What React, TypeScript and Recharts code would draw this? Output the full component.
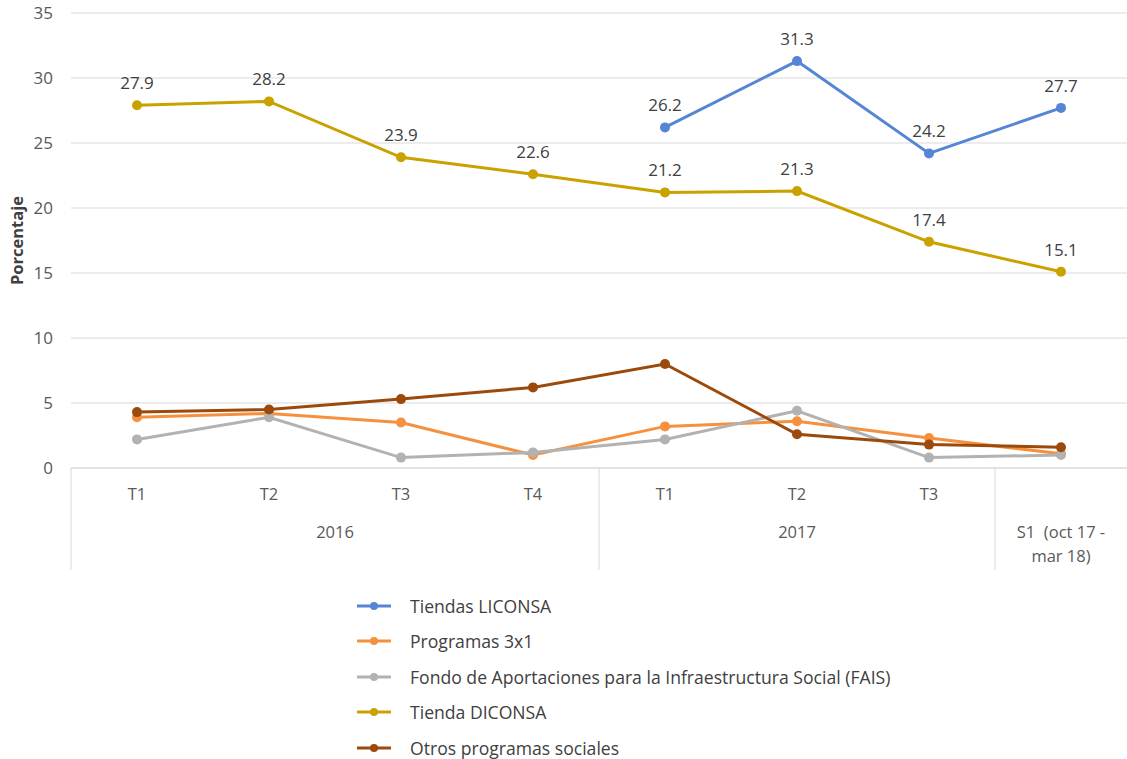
import React from "react";
import { CartesianGrid, LabelList, Legend, Line, LineChart, XAxis, YAxis } from "recharts";

const quarters = ["T1", "T2", "T3", "T4", "T1", "T2", "T3", ""];
const groups = [
  { start: 0, size: 4, label: ["2016"] },
  { start: 4, size: 3, label: ["2017"] },
  { start: 7, size: 1, label: ["S1  (oct 17 -", "mar 18)"] },
];
const yTicks = [0, 5, 10, 15, 20, 25, 30, 35];

const liconsa = [null, null, null, null, 26.2, 31.3, 24.2, 27.7];
const programas3x1 = [3.9, 4.2, 3.5, 1.0, 3.2, 3.6, 2.3, 1.1];
const fais = [2.2, 3.9, 0.8, 1.2, 2.2, 4.4, 0.8, 1.0];
const diconsa = [27.9, 28.2, 23.9, 22.6, 21.2, 21.3, 17.4, 15.1];
const otros = [4.3, 4.5, 5.3, 6.2, 8.0, 2.6, 1.8, 1.6];

const series = [
  { key: "liconsa", name: "Tiendas LICONSA", color: "#5585d4", labels: true },
  { key: "p3x1", name: "Programas 3x1", color: "#f5913e", labels: false },
  { key: "fais", name: "Fondo de Aportaciones para la Infraestructura Social (FAIS)", color: "#b2b2b2", labels: false },
  { key: "diconsa", name: "Tienda DICONSA", color: "#c9a200", labels: true },
  { key: "otros", name: "Otros programas sociales", color: "#9c4a0c", labels: false },
];

const data = quarters.map((q, i) => ({
  q: `${i}`,
  quarter: q,
  liconsa: liconsa[i],
  p3x1: programas3x1[i],
  fais: fais[i],
  diconsa: diconsa[i],
  otros: otros[i],
}));

const W = 1127;
const H = 759;
const LEFT = 71;
const PLOT_W = W - LEFT;
const BAND = PLOT_W / quarters.length;
const AXIS_H = 102;
const FONT = "'Open Sans', sans-serif";
const GRID = "#d9d9d9";

function CatText({ x, y, children }: { x: number; y: number; children: React.ReactNode }) {
  return (
    <text
      x={x}
      y={y}
      textAnchor="middle"
      fill="#595959"
      stroke="none"
      fontSize={16.5}
      fontFamily={FONT}
      style={{ whiteSpace: "pre" }}
    >
      {children}
    </text>
  );
}

function CategoryTick(props: any) {
  const { x, y, payload } = props;
  const i = Number(payload.value);
  const g = groups.find((gr) => gr.start === i);
  return (
    <g>
      <CatText x={x} y={y + 32}>
        {quarters[i]}
      </CatText>
      {g && (
        <>
          <line x1={x - BAND / 2} x2={x - BAND / 2} y1={y} y2={y + AXIS_H} stroke={GRID} />
          {g.label.map((t, k) => (
            <CatText key={k} x={x + ((g.size - 1) * BAND) / 2} y={y + 70 + k * 24}>
              {t}
            </CatText>
          ))}
        </>
      )}
    </g>
  );
}

function LegendContent() {
  return (
    <div style={{ fontFamily: FONT, fontSize: 17.6, color: "#404040" }}>
      {series.map((s) => (
        <div key={s.key} style={{ display: "flex", alignItems: "center", height: 35.5 }}>
          <svg width={53} height={12}>
            <line x1={0} x2={34} y1={6} y2={6} stroke={s.color} strokeWidth={3} />
            <circle cx={17} cy={6} r={4} fill={s.color} />
          </svg>
          <span>{s.name}</span>
        </div>
      ))}
    </div>
  );
}

export default function App() {
  return (
    <div style={{ position: "absolute", left: 0, top: 0, width: W, height: H, background: "#fff" }}>
      <LineChart width={W} height={H} data={data} margin={{ top: 13, right: 0, left: 0, bottom: 189 }}>
        <CartesianGrid vertical={false} stroke={GRID} strokeWidth={1} />
        <XAxis
          dataKey="q"
          scale="band"
          height={AXIS_H}
          interval={0}
          tickLine={false}
          tickSize={0}
          tickMargin={0}
          axisLine={{ stroke: GRID }}
          tick={<CategoryTick />}
        />
        <YAxis
          width={LEFT}
          domain={[0, 35]}
          ticks={yTicks}
          axisLine={false}
          tickLine={false}
          tickSize={0}
          tickMargin={18}
          tick={{ fill: "#595959", fontSize: 17, fontFamily: FONT }}
          label={{
            content: (p: any) => {
              const vb = p.viewBox;
              const cy = vb.y + vb.height / 2;
              return (
                <text
                  x={16}
                  y={cy}
                  transform={`rotate(-90 16 ${cy})`}
                  textAnchor="middle"
                  dominantBaseline="central"
                  fontFamily={FONT}
                  fontSize={16.5}
                  fontWeight="bold"
                  fill="#404040"
                >
                  Porcentaje
                </text>
              );
            },
          }}
        />
        <Legend
          layout="vertical"
          align="center"
          verticalAlign="middle"
          content={<LegendContent />}
          wrapperStyle={{ left: 357, top: 588, width: 620, height: 180 }}
        />
        {series.map((s) => (
          <Line
            key={s.key}
            dataKey={s.key}
            name={s.name}
            stroke={s.color}
            strokeWidth={3}
            dot={{ r: 5, fill: s.color, stroke: s.color, strokeWidth: 0 }}
            activeDot={false}
            isAnimationActive={false}
          >
            {s.labels && (
              <LabelList
                dataKey={s.key}
                position="top"
                offset={16}
                fill="#404040"
                fontSize={17}
                fontFamily={FONT}
                formatter={(v: any) => (v == null ? "" : Number(v).toFixed(1))}
              />
            )}
          </Line>
        ))}
      </LineChart>
    </div>
  );
}
